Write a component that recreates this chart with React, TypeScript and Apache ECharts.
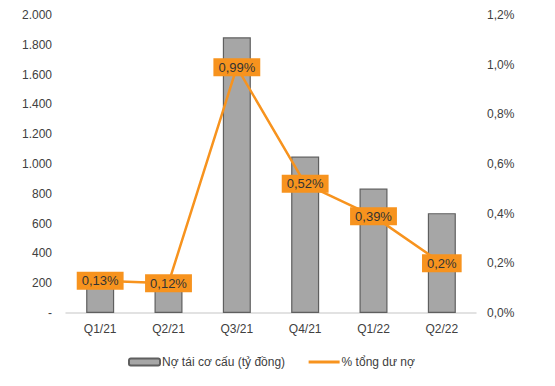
import React, { useEffect, useRef } from "react";
import * as echarts from "echarts";

const categories = ["Q1/21", "Q2/21", "Q3/21", "Q4/21", "Q1/22", "Q2/22"];
const restructuredDebt = [230, 205, 1850, 1050, 835, 670];
const percentOfLoans = [0.13, 0.12, 0.99, 0.52, 0.39, 0.2];
const barName = "Nợ tái cơ cấu (tỷ đồng)";
const lineName = "% tổng dư nợ";

const FONT = "'Liberation Sans', Arial, sans-serif";
const TXT = "#404040";

export default function App() {
  const ref = useRef<HTMLDivElement>(null);
  useEffect(() => {
    document.body.style.margin = "0";
    const chart = echarts.init(ref.current!, null, { renderer: "svg" });
    chart.setOption({
      animation: false,
      textStyle: { fontFamily: FONT },
      grid: { left: 66, right: 79, top: 15, bottom: 73, containLabel: false },
      legend: {
        bottom: 13,
        left: 123,
        itemGap: 22,
        itemWidth: 31,
        itemHeight: 7,
        textStyle: { fontFamily: FONT, fontSize: 12, color: TXT, padding: [0, 0, 0, -3] },
        data: [
          { name: barName },
          { name: lineName, itemStyle: { opacity: 0 }, lineStyle: { width: 3 } },
        ],
      },
      xAxis: {
        type: "category",
        data: categories,
        axisLine: { show: true, lineStyle: { color: "#d9d9d9", width: 1.5 } },
        axisTick: { show: false },
        axisLabel: { color: TXT, fontSize: 12, fontFamily: FONT, margin: 10 },
      },
      yAxis: [
        {
          type: "value",
          min: 0,
          max: 2000,
          interval: 200,
          splitLine: { show: false },
          axisLine: { show: false },
          axisTick: { show: false },
          axisLabel: {
            color: TXT,
            fontSize: 12,
            fontFamily: FONT,
            margin: 14,
            formatter: (v: number) =>
              v === 0 ? "-" : String(v).replace(/\B(?=(\d{3})+(?!\d))/g, "."),
          },
        },
        {
          type: "value",
          min: 0,
          max: 1.2,
          interval: 0.2,
          splitLine: { show: false },
          axisLine: { show: false },
          axisTick: { show: false },
          axisLabel: {
            color: TXT,
            fontSize: 12,
            fontFamily: FONT,
            margin: 11,
            formatter: (v: number) => v.toFixed(1).replace(".", ",") + "%",
          },
        },
      ],
      series: [
        {
          name: barName,
          type: "bar",
          data: restructuredDebt,
          barWidth: 28,
          itemStyle: { color: "#a6a6a6", borderColor: "#5f5f5f", borderWidth: 1.2 },
          z: 1,
        },
        {
          name: lineName,
          type: "line",
          yAxisIndex: 1,
          data: percentOfLoans,
          symbol: "circle",
          symbolSize: 1,
          itemStyle: { color: "#F7931E" },
          lineStyle: { color: "#F7931E", width: 2.5 },
          z: 3,
          label: {
            show: true,
            position: "inside",
            backgroundColor: "#F7931E",
            color: "#333333",
            fontFamily: FONT,
            fontSize: 13,
            padding: [3, 5, 2, 5],
            formatter: (p: any) => String(p.value).replace(".", ",") + "%",
          },
        },
      ],
    });
    return () => chart.dispose();
  }, []);
  return <div ref={ref} style={{ width: 555, height: 386 }} />;
}
